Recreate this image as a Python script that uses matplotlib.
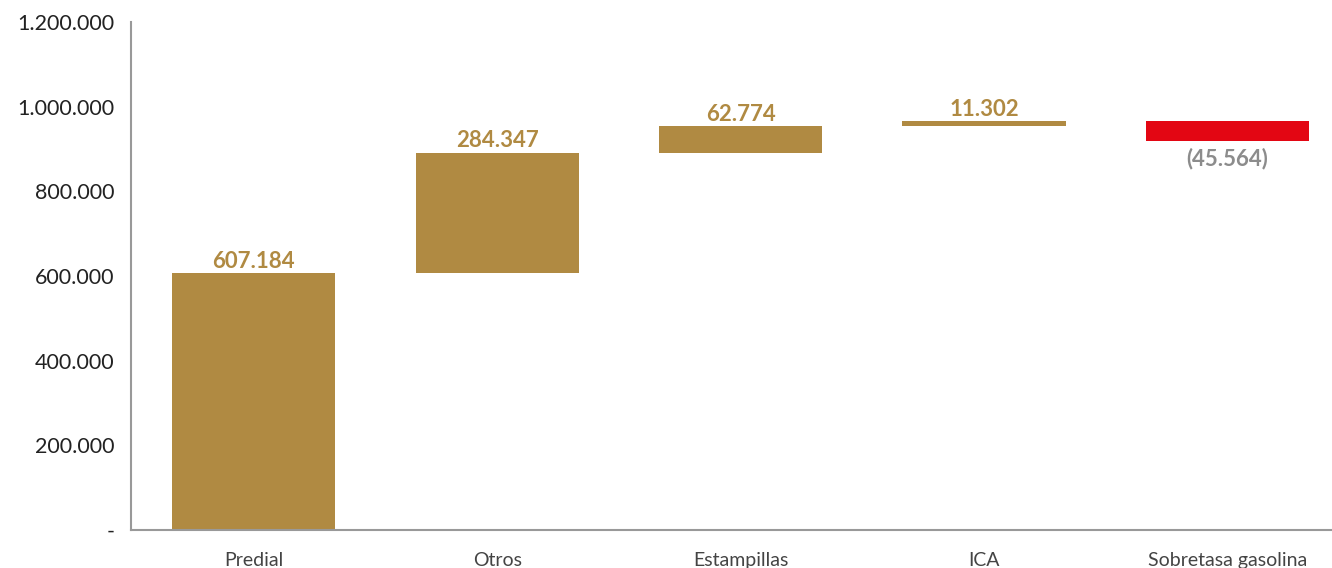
import matplotlib.pyplot as plt
from matplotlib.ticker import FuncFormatter

categories = ['Predial', 'Otros', 'Estampillas', 'ICA', 'Sobretasa gasolina']
values = [607184, 284347, 62774, 11302, -45564]

gold = '#B08A42'
red = '#E30613'

plt.rcParams['font.family'] = ['Lato', 'DejaVu Sans']


def fmt_thousands(v, pos=None):
    if v == 0:
        return '-'
    return f'{int(round(v)):,}'.replace(',', '.')


# waterfall bottoms
bottoms = []
running = 0
for v in values:
    if v >= 0:
        bottoms.append(running)
    else:
        bottoms.append(running + v)
    running += v

fig = plt.figure(figsize=(13.32, 5.68), dpi=100)
ax = fig.add_axes([0.0983, 0.0669, 0.9017, 0.894])

x = list(range(len(categories)))
colors = [gold if v >= 0 else red for v in values]
heights = [abs(v) for v in values]
ax.bar(x, heights, bottom=bottoms, width=0.67, color=colors, zorder=2)

for i, v in enumerate(values):
    if v >= 0:
        ax.annotate(fmt_thousands(v), (i, bottoms[i] + heights[i]), xytext=(0, 1),
                    textcoords='offset points', ha='center', va='bottom',
                    fontsize=16, fontweight='bold', color=gold)
    else:
        ax.annotate('(' + fmt_thousands(-v) + ')', (i, bottoms[i]), xytext=(0, -5),
                    textcoords='offset points', ha='center', va='top',
                    fontsize=16, fontweight='bold', color='#8C8C8C')

ax.set_ylim(0, 1200000)
ax.set_xlim(-0.505, 4.43)
ax.set_yticks(range(0, 1200001, 200000))
ax.yaxis.set_major_formatter(FuncFormatter(fmt_thousands))
ax.set_xticks(x)
ax.set_xticklabels(categories)

ax.tick_params(axis='y', length=0, pad=12, labelsize=15.5, labelcolor='#222222')
ax.tick_params(axis='x', length=0, pad=16, labelsize=14, labelcolor='#444444')

for s in ['top', 'right']:
    ax.spines[s].set_visible(False)
for s in ['left', 'bottom']:
    ax.spines[s].set_color('#999999')
    ax.spines[s].set_linewidth(1.5)

fig.savefig('out.png', dpi=100)
